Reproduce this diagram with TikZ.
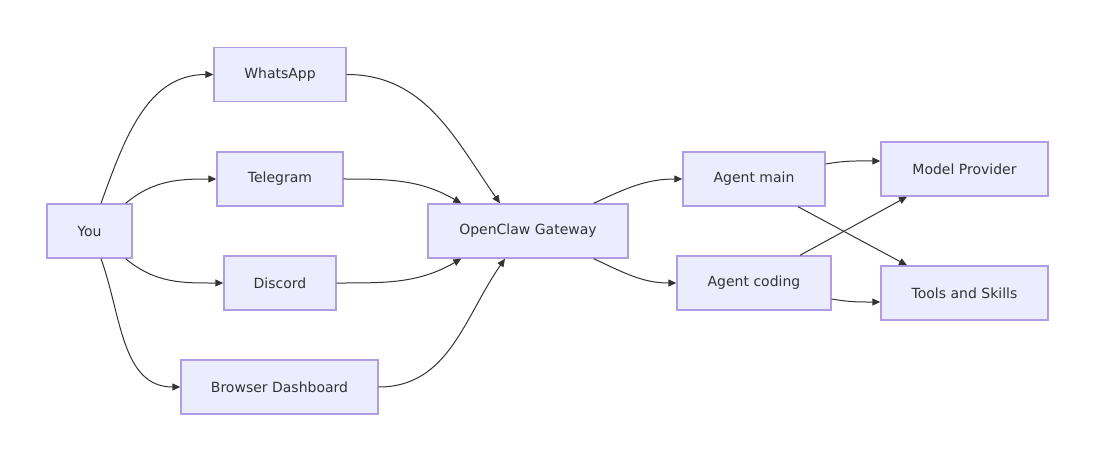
\documentclass[tikz,border=0pt]{standalone}
\usepackage{fontspec}
\setmainfont{DejaVu Sans}
\usetikzlibrary{positioning, arrows.meta}
\definecolor{boxfill}{HTML}{ECECFF}
\definecolor{boxline}{HTML}{B19CE6}
\definecolor{inkgray}{HTML}{333333}

\begin{document}
\begin{tikzpicture}[x=1pt, y=1pt,
    box/.style={draw=boxline, fill=boxfill, line width=1.4pt, text=inkgray,
                minimum height=54pt, inner sep=0pt, font=\fontsize{14}{16}\selectfont},
    link/.style={draw=inkgray, line width=1pt, -{Triangle[length=8pt, width=7pt]}}]
    \useasboundingbox (0,0) rectangle (1097,-462);
    % Sender and channels
    \node (you) [box, minimum width=85pt] at (89.5,-231) {You};
    \node (wa) [box, minimum width=132pt] at (280,-74.5) {WhatsApp};
    \node (tg) [box, minimum width=126pt] at (280,-179) {Telegram};
    \node (dc) [box, minimum width=112pt] at (280,-283) {Discord};
    \node (bd) [box, minimum width=197pt] at (279.5,-387) {Browser Dashboard};
    % Gateway and agents
    \node (gw) [box, minimum width=200pt] at (528,-231) {OpenClaw Gateway};
    \node (am) [box, minimum width=142pt] at (754,-179) {Agent main};
    \node (ac) [box, minimum width=154pt] at (754,-283) {Agent coding};
    \node (mp) [box, minimum width=167pt] at (964.5,-169) {Model Provider};
    \node (ts) [box, minimum width=167pt] at (964.5,-293) {Tools and Skills};
    % You to channels
    \draw [link] ([xshift=11.5pt]you.north) to [out=70, in=180] (wa.west);
    \draw [link] ([xshift=-7pt]you.north east) to [out=40, in=180] (tg.west);
    \draw [link] ([xshift=-7pt]you.south east) to [out=-40, in=180] (dc.west);
    \draw [link] ([xshift=11.5pt]you.south) to [out=-70, in=180] (bd.west);
    % Channels to gateway
    \draw [link] (wa.east) to [out=0, in=125] ([xshift=-28pt]gw.north);
    \draw [link] (tg.east) to [out=0, in=150] ([xshift=34pt]gw.north west);
    \draw [link] (dc.east) to [out=0, in=-150] ([xshift=34pt]gw.south west);
    \draw [link] (bd.east) to [out=0, in=-125] ([xshift=-23pt]gw.south);
    % Gateway to agents
    \draw [link] ([xshift=-35pt]gw.north east) to [out=25, in=180] (am.west);
    \draw [link] ([xshift=-35pt]gw.south east) to [out=-25, in=180] (ac.west);
    % Agents to provider and tools
    \draw [link] ([yshift=15pt]am.east) to [out=10, in=180] ([yshift=8pt]mp.west);
    \draw [link] ([xshift=44pt]am.south) -- ([xshift=-57.5pt]ts.north);
    \draw [link] ([xshift=46pt]ac.north) -- ([xshift=-57.5pt]mp.south);
    \draw [link] ([yshift=-16pt]ac.east) to [out=-10, in=180] ([yshift=-9pt]ts.west);
\end{tikzpicture}
\end{document}
